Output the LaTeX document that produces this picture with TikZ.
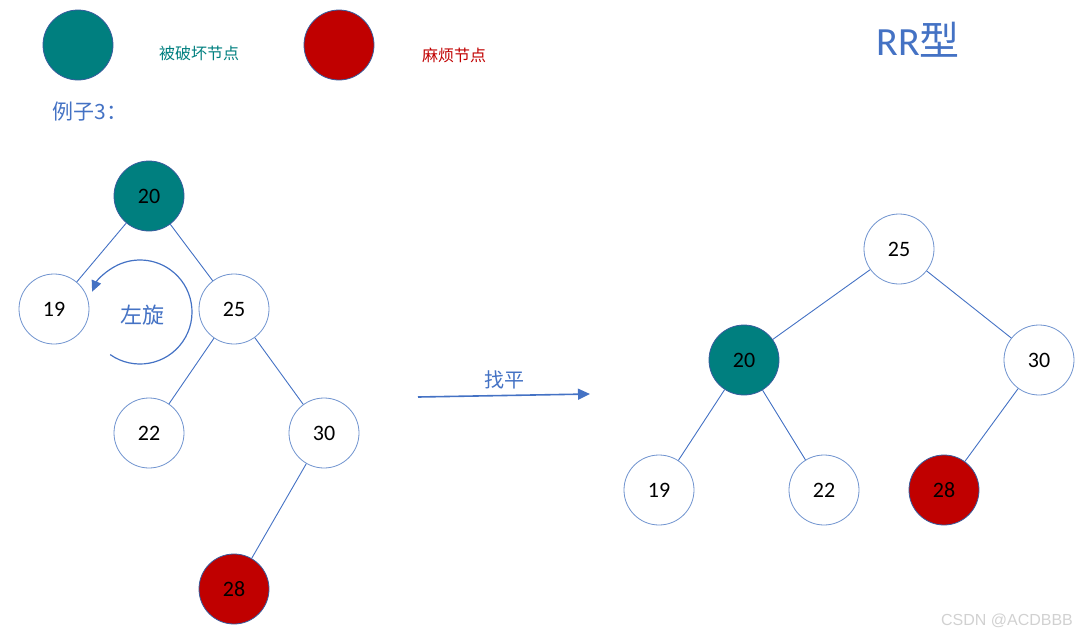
\documentclass[tikz,border=0pt]{standalone}
\usepackage{fontspec}
\usetikzlibrary{arrows.meta}
\setmainfont{Carlito}
\newfontfamily\cjk{Noto Sans CJK SC}
\newfontfamily\wmfont{Liberation Sans}
\definecolor{lineblue}{HTML}{4472C4}
\definecolor{ringblue}{HTML}{6F93CF}
\definecolor{brokenteal}{HTML}{007F7F}
\definecolor{troublered}{HTML}{C00000}
\begin{document}
\begin{tikzpicture}
		[x=1pt,y=-1pt,
		treenode/.style={
			circle,
			draw=ringblue,
			fill=white,
			line width=0.8pt,
			minimum size=70pt,
			inner sep=0pt,
			font=\fontsize{22}{26}\selectfont
		},
		broken/.style={treenode,fill=brokenteal,draw=lineblue!80!black},
		trouble/.style={treenode,fill=troublered,draw=lineblue!80!black},
		edge/.style={draw=lineblue,line width=0.9pt},
		note/.style={font=\cjk\fontsize{#1}{#1}\selectfont}]
		\useasboundingbox (0,0) rectangle (1088,638);
		% legend
		\node[broken] (keybroken) at (78,45) {};
		\node[note=16,text=brokenteal] (keybrokentext) at (199,53) {被破坏节点};
		\node[trouble] (keytrouble) at (339,45) {};
		\node[note=16,text=troublered] (keytroubletext) at (454,55) {麻烦节点};
		\node[note=21,text=lineblue] (example) at (90,112) {例子3：};
		\node[text=lineblue,font=\fontsize{40}{44}\selectfont] (title) at (918,40) {RR{\cjk 型}};
		% before
		\node[broken] (a20) at (149,196) {20};
		\node[treenode] (a19) at (54,309) {19};
		\node[treenode] (a25) at (234,309) {25};
		\node[treenode] (a22) at (149,433) {22};
		\node[treenode] (a30) at (324,433) {30};
		\node[trouble] (a28) at (234,589) {28};
		\draw[edge] (a20) -- (a19);
		\draw[edge] (a20) -- (a25);
		\draw[edge] (a25) -- (a22);
		\draw[edge] (a25) -- (a30);
		\draw[edge] (a30) -- (a28);
		% rotation
		\node[note=22,text=lineblue] (spin) at (142,315) {左旋};
		\draw[edge,line width=1.2pt,-{Triangle[length=11pt,width=10pt]}] (140,312) ++(125:52) arc[start angle=125,end angle=-157,radius=52];
		% balance
		\coordinate (go) at (418,397);
		\coordinate (stop) at (590,394);
		\draw[edge,line width=1.6pt,-{Triangle[length=12pt,width=11pt]}] (go) -- node[note=20,text=lineblue,above=2pt] (balance) {找平} (stop);
		% after
		\node[treenode] (b25) at (899,249) {25};
		\node[broken] (b20) at (744,360) {20};
		\node[treenode] (b30) at (1039,360) {30};
		\node[treenode] (b19) at (659,490) {19};
		\node[treenode] (b22) at (824,490) {22};
		\node[trouble] (b28) at (944,490) {28};
		\draw[edge] (b25) -- (b20);
		\draw[edge] (b25) -- (b30);
		\draw[edge] (b20) -- (b19);
		\draw[edge] (b20) -- (b22);
		\draw[edge] (b30) -- (b28);
		% watermark
		\node[text=black!18,font=\wmfont\fontsize{16}{18}\selectfont] (mark) at (1007,621) {CSDN @ACDBBB};
	\end{tikzpicture}
\end{document}
